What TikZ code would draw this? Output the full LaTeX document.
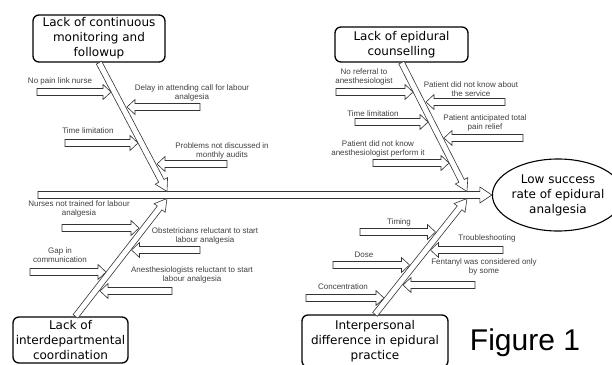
\documentclass[tikz,border=0pt]{standalone}
\usepackage{fontspec}
\setmainfont{Liberation Sans}
\newfontfamily\headfont{DejaVu Sans}
\usetikzlibrary{calc,shapes.geometric}

\begin{document}
\begin{tikzpicture}[x=1pt,y=-1pt,line width=0.6pt,
    head/.style={draw,rounded corners=6pt,line width=1.3pt,align=center,inner sep=0pt,
                 font=\headfont\fontsize{12}{15}\selectfont},
    goal node/.style={ellipse,draw,line width=1.1pt,align=center,inner sep=0pt,
                 minimum width=96pt,minimum height=72pt,
                 font=\headfont\fontsize{12}{15}\selectfont},
    cause/.style={font=\fontsize{8}{9}\selectfont,text=black!75,align=center,inner sep=0pt},
    block/.style n args={3}{draw=black!80,fill=white,to path={
        ($(\tikztostart)!#1!90:(\tikztotarget)$)
        -- ($(\tikztotarget)!#3!(\tikztostart)!#1!90:(\tikztotarget)$)
        -- ($(\tikztotarget)!#3!(\tikztostart)!#2!90:(\tikztotarget)$)
        -- (\tikztotarget)
        -- ($(\tikztotarget)!#3!(\tikztostart)!#2!-90:(\tikztotarget)$)
        -- ($(\tikztotarget)!#3!(\tikztostart)!#1!-90:(\tikztotarget)$)
        -- ($(\tikztostart)!#1!-90:(\tikztotarget)$) -- cycle}},
    spine/.style={block={3.5pt}{8pt}{12pt}},
    bone/.style={block={3pt}{7pt}{12pt}},
    causearrow/.style={block={3.5pt}{7.5pt}{8pt}}]
    \useasboundingbox (0,0) rectangle (612,364);
    \clip (0,0) rectangle (612,364);

    % categories and effect
    \node[head,minimum width=132pt,minimum height=47pt] (mon) at (99,38.5)
        {Lack of continuous\\monitoring and\\followup};
    \node[head,minimum width=133pt,minimum height=35pt] (coun) at (401.5,44.5)
        {Lack of epidural\\counselling};
    \node[head,minimum width=115pt,minimum height=46pt] (inter) at (70.5,340)
        {Lack of\\interdepartmental\\coordination};
    \node[head,minimum width=146pt,minimum height=52pt] (prac) at (375,341)
        {Interpersonal\\difference in epidural\\practice};
    \node[goal node] (goal) at (558,195) {Low success\\rate of epidural\\analgesia};
    \node[font=\fontsize{30}{36}\selectfont,inner sep=0pt,anchor=base] (fig) at (525,350) {Figure 1};

    % spine and bones
    \coordinate (tail) at (38,195);
    \coordinate (tl) at (167,191.5);
    \coordinate (tr) at (467,191.5);
    \coordinate (bl) at (167,198.5);
    \coordinate (br) at (467,198.5);
    \coordinate (root) at ([xshift=5pt]inter.north);
    \draw[spine] (tail) to (goal.west);
    \draw[bone] (mon.south) to (tl);
    \draw[bone] (coun.south) to (tr);
    \draw[bone] (root) to (bl);
    \draw[bone] (prac.north) to (br);

    % causes
    \foreach \n/\x/\t/\y in {a1/37/111/92, a2/200/127/107, a3/65/138/143, a4/227/157/164,
        b1/336/413/92, b2/505/426/102, b3/355/428/122, b4/523/444/138, b5/373/449/163,
        c1/62/139/228, c2/200/131.5/250, c3/30/106/272, c4/172/100/291,
        d1/360/435.5/232, d2/503/430.5/250, d3/333/409.5/265, d4/475/403/285, d5/306/384/298}
        {\coordinate (\n) at (\x,\y); \coordinate (\n-tip) at (\t,\y);}
    \foreach \n in {a1,a2,a3,a4,b1,b2,b3,b4,b5,c1,c2,c3,c4,d1,d2,d3,d4,d5}
        \draw[causearrow] (\n) to (\n-tip);

    \node[cause] (la1) at (60,81) {No pain link nurse};
    \node[cause] (la2) at (192,93) {Delay in attending call for labour\\analgesia};
    \node[cause] (la3) at (88,131) {Time limitation};
    \node[cause] (la4) at (222,151) {Problems not discussed in\\monthly audits};
    \node[cause] (lb1) at (364,77) {No referral to\\anesthesiologist};
    \node[cause] (lb2) at (471,89) {Patient did not know about\\the service};
    \node[cause] (lb3) at (373,114) {Time limitation};
    \node[cause] (lb4) at (485,123) {Patient anticipated total\\pain relief};
    \node[cause] (lb5) at (378,149) {Patient did not know\\anesthesiologist perform it};
    \node[cause] (lc1) at (79,209) {Nurses not trained for labour\\analgesia};
    \node[cause] (lc2) at (205,236) {Obstetricians reluctant to start\\labour analgesia};
    \node[cause] (lc3) at (60,255) {Gap in\\communication};
    \node[cause] (lc4) at (192,275) {Anesthesiologists reluctant to start\\labour analgesia};
    \node[cause] (ld1) at (399,222) {Timing};
    \node[cause] (ld2) at (487,238) {Troubleshooting};
    \node[cause] (ld3) at (364,255) {Dose};
    \node[cause] (ld4) at (484,267) {Fentanyl was considered only\\by some};
    \node[cause] (ld5) at (343,287) {Concentration};
\end{tikzpicture}
\end{document}
